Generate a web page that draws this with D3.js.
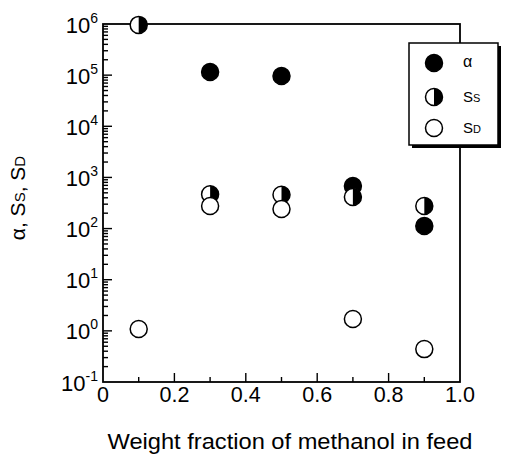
<!DOCTYPE html>
<html>
<head>
<meta charset="utf-8">
<script src="https://cdn.jsdelivr.net/npm/d3@7"></script>
<style>
  body { margin: 0; background: #fff; }
  svg { display: block; font-family: "Liberation Sans", Arial, sans-serif; }
</style>
</head>
<body>
<svg id="chart" width="505" height="456"></svg>
<script>
// data
const alphaX = [0.3, 0.5, 0.7, 0.9];
const alphaY = [1.15e5, 9.6e4, 680, 112];
const ssX = [0.1, 0.3, 0.5, 0.7, 0.9];
const ssY = [9.6e5, 470, 460, 414, 276];
const sdX = [0.1, 0.3, 0.5, 0.7, 0.9];
const sdY = [1.09, 276, 241, 1.7, 0.44];
const xTicks = [0, 0.2, 0.4, 0.6, 0.8, 1.0];
const xTickLabels = ["0", "0.2", "0.4", "0.6", "0.8", "1.0"];
const yExponents = [-1, 0, 1, 2, 3, 4, 5, 6];

const svg = d3.select("#chart");
const plotLeft = 103, plotRight = 460, plotTop = 24, plotBottom = 382;
const r = 8.5;

const x = d3.scaleLinear().domain([0, 1]).range([plotLeft, plotRight]);
const y = d3.scaleLog().domain([0.1, 1e6]).range([plotBottom, plotTop]);

// ticks (inward)
const tickG = svg.append("g").attr("stroke", "#000").attr("stroke-width", 1.4);
d3.range(1, 10).forEach(i => {
    let v = i / 10;
    let major = (i % 2 === 0);
    tickG.append("line")
        .attr("x1", x(v)).attr("x2", x(v))
        .attr("y1", plotBottom).attr("y2", plotBottom - (major ? 9 : 5));
});
for (let e = -1; e < 6; e++) {
    for (let m = 1; m < 10; m++) {
        let v = m * Math.pow(10, e);
        if (m === 1 && e === -1) continue;
        tickG.append("line")
            .attr("x1", plotLeft).attr("x2", plotLeft + (m === 1 ? 9 : 5))
            .attr("y1", y(v)).attr("y2", y(v));
    }
}

// frame
svg.append("rect")
    .attr("x", plotLeft).attr("y", plotTop)
    .attr("width", plotRight - plotLeft).attr("height", plotBottom - plotTop)
    .attr("fill", "none").attr("stroke", "#000").attr("stroke-width", 1.8);

// y tick labels
const yLab = svg.append("g").attr("font-size", 22).attr("fill", "#000");
yExponents.forEach(e => {
    let t = yLab.append("text")
        .attr("x", 98).attr("y", y(Math.pow(10, e)) + 8.5)
        .attr("text-anchor", "end");
    t.append("tspan").text("10");
    t.append("tspan").attr("font-size", 14).attr("dy", -10).text(e);
});

// x tick labels
svg.append("g").attr("font-size", 21.5).selectAll("text")
    .data(xTicks).join("text")
    .attr("x", d => x(d)).attr("y", 402)
    .attr("text-anchor", "middle")
    .text((d, i) => xTickLabels[i]);

// axis titles
svg.append("text")
    .attr("x", 290).attr("y", 449)
    .attr("text-anchor", "middle").attr("font-size", 22)
    .attr("textLength", 365).attr("lengthAdjust", "spacingAndGlyphs")
    .text("Weight fraction of methanol in feed");

const yt = svg.append("text")
    .attr("transform", "translate(25,198) rotate(-90)")
    .attr("text-anchor", "middle").attr("font-size", 21);
yt.append("tspan").text("α, S");
yt.append("tspan").attr("font-size", 15).text("S");
yt.append("tspan").text(", S");
yt.append("tspan").attr("font-size", 15).text("D");

// markers
function fullMark(g, cx, cy) {
    g.append("circle").attr("cx", cx).attr("cy", cy).attr("r", r)
        .attr("fill", "#000").attr("stroke", "#000").attr("stroke-width", 1.5);
}
function halfMark(g, cx, cy) {
    g.append("circle").attr("cx", cx).attr("cy", cy).attr("r", r).attr("fill", "#fff");
    g.append("path")
        .attr("d", `M${cx},${cy - r}A${r},${r} 0 0 1 ${cx},${cy + r}Z`)
        .attr("fill", "#000");
    g.append("circle").attr("cx", cx).attr("cy", cy).attr("r", r)
        .attr("fill", "none").attr("stroke", "#000").attr("stroke-width", 1.5);
}
function openMark(g, cx, cy) {
    g.append("circle").attr("cx", cx).attr("cy", cy).attr("r", r)
        .attr("fill", "#fff").attr("stroke", "#000").attr("stroke-width", 1.5);
}

const pts = svg.append("g");
alphaX.forEach((v, i) => fullMark(pts, x(v), y(alphaY[i])));
ssX.forEach((v, i) => halfMark(pts, x(v), y(ssY[i])));
sdX.forEach((v, i) => openMark(pts, x(v), y(sdY[i])));

// legend
const lg = svg.append("g");
lg.append("rect").attr("x", 412).attr("y", 46).attr("width", 89).attr("height", 102).attr("fill", "#000");
lg.append("rect").attr("x", 409).attr("y", 43).attr("width", 89).attr("height", 102)
    .attr("fill", "#fff").attr("stroke", "#000").attr("stroke-width", 1.5);
fullMark(lg, 434, 63);
halfMark(lg, 434, 97);
openMark(lg, 434, 128);
lg.append("text").attr("x", 463).attr("y", 67).attr("font-size", 16).text("α");
let l2 = lg.append("text").attr("x", 463).attr("y", 102).attr("font-size", 15);
l2.append("tspan").text("S");
l2.append("tspan").attr("font-size", 11).text("S");
let l3 = lg.append("text").attr("x", 463).attr("y", 133).attr("font-size", 15);
l3.append("tspan").text("S");
l3.append("tspan").attr("font-size", 11).text("D");
</script>
</body>
</html>
